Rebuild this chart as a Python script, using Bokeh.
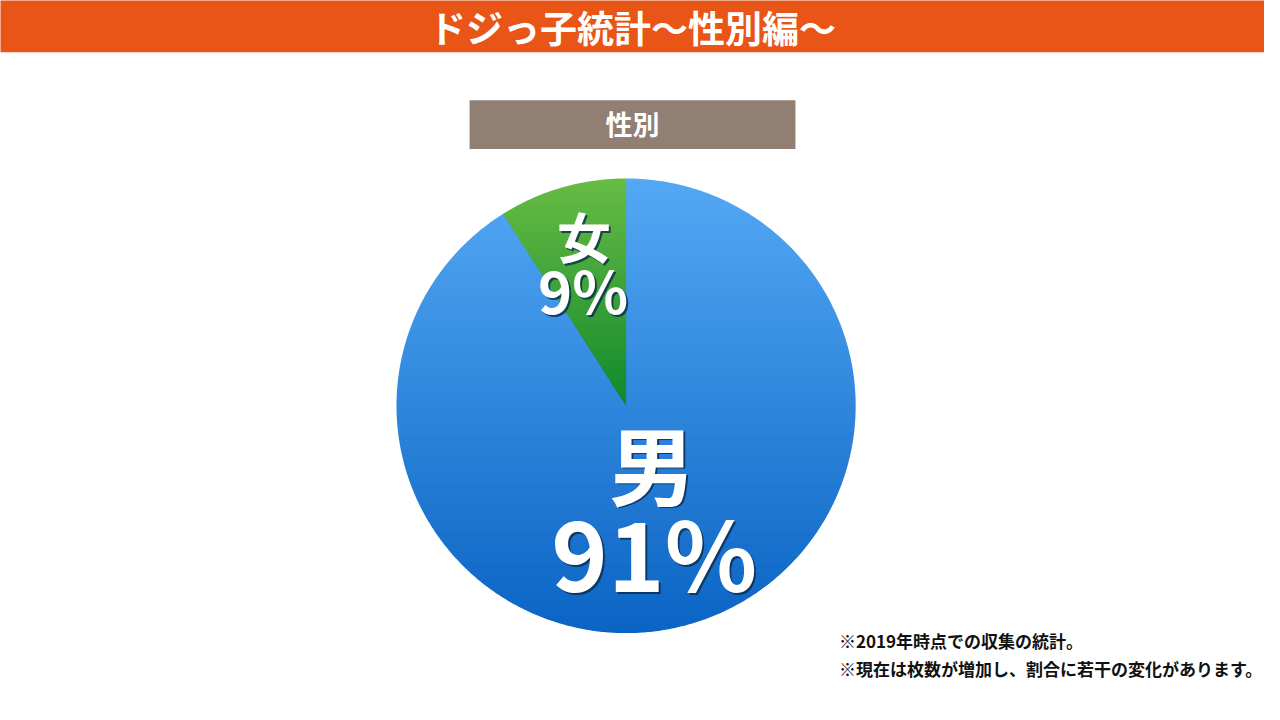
import numpy as np
from bokeh.plotting import figure
from bokeh.models import Range1d
from bokeh.core.properties import value
from bokeh.embed import file_html
from bokeh.resources import INLINE

# ---- data ----
categories = ["女", "男"]
shares = [9, 91]
labels = ["9%", "91%"]
title_text = "ドジっ子統計〜性別編〜"
box_text = "性別"
notes = ["※2019年時点での収集の統計。", "※現在は枚数が増加し、割合に若干の変化があります。"]

W, H = 1264, 704
p = figure(width=W, height=H, output_backend="svg", toolbar_location=None,
           x_range=Range1d(0, 1280), y_range=Range1d(0, 720),
           min_border=0, outline_line_color=None, background_fill_color="white")
p.axis.visible = False
p.grid.visible = False

def Y(py):
    return 720 - py

JP = value("Noto Sans CJK JP")

# header bar
p.quad(left=[-5], right=[1285], bottom=[Y(53)], top=[Y(-5)], fill_color="#E85516", line_color=None)
p.text(x=[640], y=[Y(27)], text=[title_text], text_font=JP, text_font_style="bold",
       text_font_size="37px", text_color="white", text_align="center", text_baseline="middle")

# label box
p.quad(left=[475], right=[805], bottom=[Y(152)], top=[Y(102)], fill_color="#917F73", line_color=None)
p.text(x=[640], y=[Y(126)], text=[box_text], text_font=JP, text_font_style="bold",
       text_font_size="27px", text_color="white", text_align="center", text_baseline="middle")

# pie geometry
cx, cy, r = 633.5, Y(414.5), 232.5
fracs = np.array(shares, dtype=float) / sum(shares)
a_start = np.pi / 2
a_split = a_start + 2 * np.pi * fracs[0]  # end of female slice (counterclockwise)

def lerp(c1, c2, t):
    c1 = np.array([int(c1[i:i + 2], 16) for i in (1, 3, 5)], float)
    c2 = np.array([int(c2[i:i + 2], 16) for i in (1, 3, 5)], float)
    c = c1 + (c2 - c1) * t
    return "#%02x%02x%02x" % tuple(int(round(v)) for v in c)

LO, HI = 0.2, 2.2  # strip extent below/above its base line (generous overlap)

# blue gradient strips across whole circle
ys = np.arange(cy - r - 3, cy + r + 2, 1.0)
t = np.clip((cy + r - (ys + 0.5)) / (2 * r), 0, 1)
blue_top, blue_bot = "#54A8F4", "#0B64C4"
bl, br = cx - r - 4, cx + r + 4
xs_b = [[bl, br, br, bl] for _ in ys]
ys_b = [[y0 - LO, y0 - LO, y0 + HI, y0 + HI] for y0 in ys]
p.patches(xs=xs_b, ys=ys_b, fill_color=[lerp(blue_top, blue_bot, v) for v in t], line_color=None)

# green wedge strips (female slice)
gy = np.arange(cy, cy + r + 3, 1.0)
gt = np.clip((cy + r - (gy + 0.5)) / r, 0, 1)
cot = np.cos(a_split) / np.sin(a_split)
gx_left_b = cx + (gy - LO - cy) * cot
gx_left_t = cx + (gy + HI - cy) * cot
green_top, green_bot = "#68BC45", "#11882C"
xs_g = [[cx, lb, lt, cx] for lb, lt in zip(gx_left_b, gx_left_t)]
ys_g = [[max(y0 - LO, cy), max(y0 - LO, cy), y0 + HI, y0 + HI] for y0 in gy]
p.patches(xs=xs_g, ys=ys_g, fill_color=[lerp(green_top, green_bot, v) for v in gt], line_color=None)

# white mask outside circle
th = np.linspace(0, 2 * np.pi, 721)
hx = list(cx + r * np.cos(th))
hy = list(cy + r * np.sin(th))
m = 8
ox = [cx - r - m, cx + r + m, cx + r + m, cx - r - m]
oy = [cy - r - m, cy - r - m, cy + r + m, cy + r + m]
p.multi_polygons(xs=[[[ox, hx]]], ys=[[[oy, hy]]], fill_color="white", line_color=None)

# slice labels with shadow
def label(x, y, txt, size):
    p.text(x=[x + 2], y=[y - 2], text=[txt], text_font=JP, text_font_size=size, text_font_style="bold",
           text_color="#0a2a4a", text_alpha=0.8, text_align="center", text_baseline="middle")
    p.text(x=[x], y=[y], text=[txt], text_font=JP, text_font_size=size, text_font_style="bold",
           text_color="white", text_align="center", text_baseline="middle")

label(591, Y(240), categories[0], "54px")
label(590, Y(295), labels[0], "58px")
label(660, Y(472), categories[1], "86px")
label(662, Y(563), labels[1], "96px")

# notes
p.text(x=[849, 849], y=[Y(655), Y(683)], text=notes, text_font=JP, text_font_style="bold",
       text_font_size="17px", text_color="#111111", text_align="left", text_baseline="middle")

open("out.html", "w").write(file_html(p, INLINE))
